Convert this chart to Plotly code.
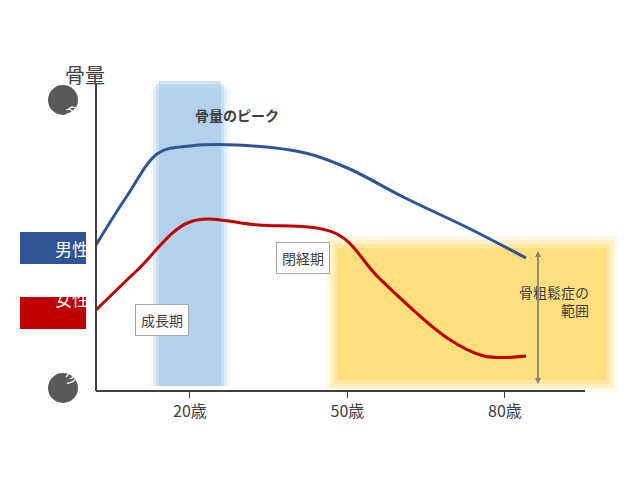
import plotly.graph_objects as go

# ages (x) and bone mass (relative units, 0 = 少)
male_age = [2.1, 8, 14, 20, 29, 42, 50, 61, 73, 84]
male_mass = [146, 195, 238, 245, 246, 238, 223, 193, 163, 133]
female_age = [2.1, 10, 20, 33, 48, 56, 69, 76, 84]
female_mass = [81, 121, 169, 166, 157, 113, 53, 35, 35]
tick_vals = [20, 50, 80]
tick_text = ["20歳", "50歳", "80歳"]

BLUE = "#2f5597"
RED = "#c00000"
FONT = "Noto Sans CJK JP"

L, T, W, H = 88, 75, 532, 308


def px(x):
    return (x - L) / W


def py(y):
    return (T + H - y) / H


fig = go.Figure()
fig.add_trace(go.Scatter(x=male_age, y=male_mass, mode="lines", line=dict(color=BLUE, width=3, shape="spline")))
fig.add_trace(go.Scatter(x=female_age, y=female_mass, mode="lines", line=dict(color=RED, width=3, shape="spline")))

shapes = []
# soft blue band (layered for blur)
for i, op in enumerate([0.12, 0.2, 0.35, 0.5]):
    d = 10 - 3 * i
    shapes.append(dict(type="rect", xref="paper", yref="paper", layer="below",
                       x0=px(152 - d), x1=px(212 + d), y0=py(378), y1=py(72 + d),
                       fillcolor="#9dc3e6", opacity=op, line_width=0))
# soft yellow area
for i, op in enumerate([0.15, 0.25, 0.4, 0.6]):
    d = 12 - 4 * i
    shapes.append(dict(type="rect", xref="paper", yref="paper", layer="below",
                       x0=px(330 - d), x1=px(598 + d), y0=py(372 + d), y1=py(240 - d),
                       fillcolor="#ffd966", opacity=op, line_width=0))
# axes
shapes.append(dict(type="line", xref="paper", yref="paper", x0=px(88), x1=px(88), y0=py(75), y1=py(383), line=dict(color="#404040", width=2)))
shapes.append(dict(type="line", xref="paper", yref="paper", x0=px(88), x1=px(577), y0=py(383), y1=py(383), line=dict(color="#404040", width=2)))
# circles
for cy in (92, 380):
    shapes.append(dict(type="circle", xref="paper", yref="paper", x0=px(40), x1=px(70), y0=py(cy + 15), y1=py(cy - 15), fillcolor="#595959", line_width=0))
# legend boxes
shapes.append(dict(type="rect", xref="paper", yref="paper", x0=px(12), x1=px(78), y0=py(256), y1=py(224), fillcolor=BLUE, line_width=0))
shapes.append(dict(type="rect", xref="paper", yref="paper", x0=px(12), x1=px(78), y0=py(321), y1=py(289), fillcolor=RED, line_width=0))
fig.update_layout(shapes=shapes)

ann = []


def text(x, y, s, size=14, color="#404040", **kw):
    ann.append(dict(x=px(x), y=py(y), xref="paper", yref="paper", text=s, showarrow=False,
                    font=dict(family=FONT, size=size, color=color), **kw))


text(55, 50, "骨量", 20)
text(55, 92, "多", 15, "white")
text(55, 380, "少", 15, "white")
text(45, 240, "男性", 17, "white")
text(45, 305, "女性", 17, "white")
text(185, 95, "<b>骨量のピーク</b>", 14)
text(295, 250, "閉経期", 14, bgcolor="white", bordercolor="#a6a6a6", borderwidth=1, borderpad=5)
text(127, 328, "成長期", 14, bgcolor="white", bordercolor="#a6a6a6", borderwidth=1, borderpad=5)
text(583, 314, "骨粗鬆症の<br>範囲", 14, align="right")
# double arrow
for y0, off in ((243, 133), (376, -133)):
    ann.append(dict(xref="paper", yref="paper", x=px(530), y=py(y0), ax=0, ay=off, text="",
                    showarrow=True, arrowhead=2, arrowsize=1, arrowwidth=1.2, arrowcolor="#808080"))
fig.update_layout(annotations=ann)

fig.update_layout(
    width=640, height=480, margin=dict(l=L, r=640 - L - W, t=T, b=480 - T - H),
    plot_bgcolor="white", paper_bgcolor="white", showlegend=False,
    xaxis=dict(range=[2.1, 2.1 + W / 5.25], tickvals=tick_vals, ticktext=tick_text, showgrid=False,
               zeroline=False, showline=False, ticks="outside", ticklen=6, tickcolor="#404040",
               tickfont=dict(family=FONT, size=16, color="#404040")),
    yaxis=dict(range=[0, H], visible=False),
)
fig.write_html("out.html")
